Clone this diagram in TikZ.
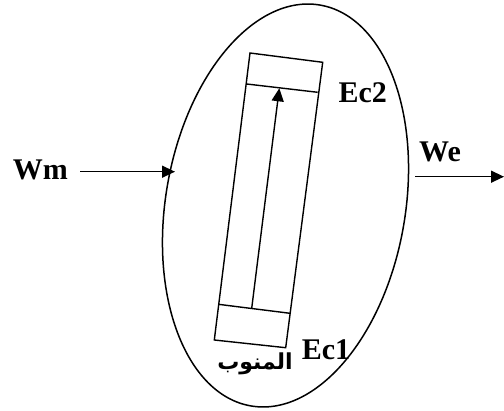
\documentclass[tikz,border=0pt]{standalone}
\usepackage{fontspec}
\setmainfont{Liberation Serif}
\newfontfamily\arabicfont[Script=Arabic]{DejaVu Sans}
\TeXXeTstate=1
\usetikzlibrary{arrows.meta}
\begin{document}
\begin{tikzpicture}[x=1pt,y=-1pt,
  lbl/.style={font=\bfseries\fontsize{30}{30}\selectfont,inner sep=0pt,anchor=base west},
  ln/.style={line width=1.4pt},
  arr/.style={ln,-{Triangle[length=13pt,width=12pt]}}]
\useasboundingbox (0,0) rectangle (504,411);
% system boundary
\draw[line width=1.5pt,rotate around={-9.8:(285.5,205.5)}] (285.5,205.5) ellipse [x radius=119.8,y radius=203.4];
% generator bar
\coordinate (tl) at (250,53);
\coordinate (tr) at (322.7,62.3);
\coordinate (br) at (285.7,347.7);
\coordinate (bl) at (214.3,340);
\draw[ln] (tl) -- (tr) -- (br) -- (bl) -- cycle;
\coordinate (itl) at (246.7,84);
\coordinate (itr) at (317.7,92.3);
\coordinate (ibl) at (218.3,304.3);
\coordinate (ibr) at (290,313.3);
\draw[ln] (itl) -- (itr);
\draw[ln] (ibl) -- (ibr);
\coordinate (aS) at (251.7,308.3);
\coordinate (aE) at (279.3,88.3);
\draw[arr] (aS) -- (aE);
% labels
\node[lbl] (wm) at (12.7,179.3) {Wm};
\node[lbl] (we) at (419,161.7) {We};
\node[lbl] (ec2) at (338.3,102.3) {Ec2};
\node[lbl] (ec1) at (301.7,360) {Ec1};
\node[inner sep=0pt,anchor=base] (mn) at (255,370) {\arabicfont\bfseries\fontsize{22}{22}\selectfont\beginR المنوب\endR};
% energy flows
\coordinate (wmS) at (80,171.7);
\coordinate (wmE) at (175,171.7);
\draw[arr] (wmS) -- (wmE);
\coordinate (weS) at (415,176.7);
\coordinate (weE) at (504,176.7);
\draw[arr] (weS) -- (weE);
\end{tikzpicture}
\end{document}
